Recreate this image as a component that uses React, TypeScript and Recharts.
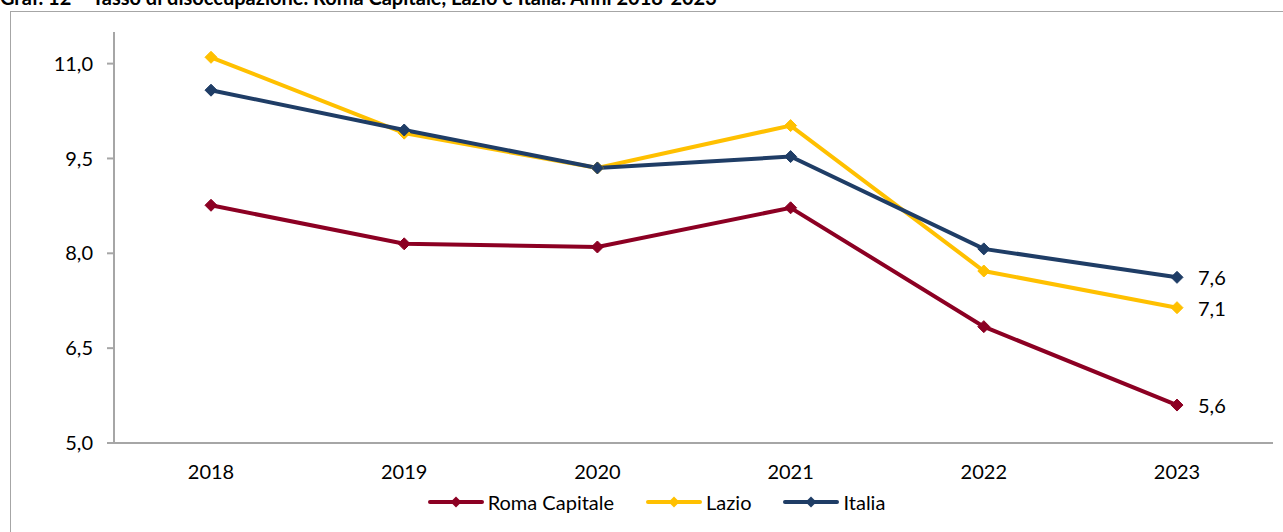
import { LineChart, Line, XAxis, YAxis, Legend, LabelList } from 'recharts';

const years = ['2018', '2019', '2020', '2021', '2022', '2023'];
const romaCapitale = [8.76, 8.15, 8.1, 8.72, 6.84, 5.6];
const lazio = [11.1, 9.9, 9.35, 10.02, 7.72, 7.14];
const italia = [10.58, 9.95, 9.35, 9.53, 8.07, 7.62];
const yTicks = [5.0, 6.5, 8.0, 9.5, 11.0];

const seriesInfo = [
    { key: 'roma', name: 'Roma Capitale', color: '#8C0023' },
    { key: 'lazio', name: 'Lazio', color: '#FFC000' },
    { key: 'italia', name: 'Italia', color: '#1F3D66' },
];

const data = years.map((year, i) => ({
    year,
    roma: romaCapitale[i],
    lazio: lazio[i],
    italia: italia[i],
}));

const FONT = 'Lato, "Open Sans", sans-serif';
const fmt = (v: number) => v.toFixed(1).replace('.', ',');

function Diamond(props: any) {
    const { cx, cy, stroke } = props;
    if (cx == null || cy == null) return null;
    const r = 6;
    return (
        <polygon
            points={`${cx},${cy - r} ${cx + r},${cy} ${cx},${cy + r} ${cx - r},${cy}`}
            fill={stroke}
            stroke={stroke}
            strokeWidth={1}
            strokeLinejoin="round"
        />
    );
}

function EndLabel(props: any) {
    const { x, y, value, index } = props;
    if (index !== years.length - 1) return null;
    return (
        <text x={x + 21} y={y} dominantBaseline="central" fontSize={20} fontFamily={FONT} fill="#000">
            {fmt(value)}
        </text>
    );
}

function LegendContent() {
    return (
        <div style={{ display: 'flex', justifyContent: 'center', alignItems: 'center', height: 28, paddingLeft: 30, fontFamily: FONT, fontSize: 20 }}>
            {seriesInfo.map((s, i) => (
                <div key={s.key} style={{ display: 'flex', alignItems: 'center', marginRight: i < seriesInfo.length - 1 ? 32 : 0 }}>
                    <svg width={56} height={14} style={{ marginRight: 4 }}>
                        <line x1={2} y1={7} x2={54} y2={7} stroke={s.color} strokeWidth={4} strokeLinecap="round" />
                        <polygon points="28,1.5 33.5,7 28,12.5 22.5,7" fill={s.color} />
                    </svg>
                    <span style={{ color: '#000' }}>{s.name}</span>
                </div>
            ))}
        </div>
    );
}

export default function App() {
    return (
        <div style={{ position: 'absolute', left: 0, top: 0, width: 1283, height: 532, overflow: 'hidden', background: '#fff' }}>
            <div
                style={{
                    position: 'absolute',
                    left: 0,
                    top: -13,
                    fontFamily: FONT,
                    fontWeight: 'bold',
                    fontSize: 20,
                    lineHeight: '20px',
                    whiteSpace: 'nowrap',
                    color: '#000',
                }}
            >
                Graf. 12 – Tasso di disoccupazione. Roma Capitale, Lazio e Italia. Anni 2018-2023
            </div>
            <div style={{ position: 'absolute', left: 10, top: 11, width: 1280, height: 600, border: '1.5px solid #A6A6A6' }} />
            <div style={{ position: 'absolute', left: 0, top: 0 }}>
                <LineChart width={1283} height={532} data={data} margin={{ top: 32, right: 10, left: 10, bottom: 4 }}>
                    <XAxis
                        dataKey="year"
                        height={45}
                        padding={{ left: 97, right: 96 }}
                        tickLine={false}
                        axisLine={{ stroke: '#A6A6A6', strokeWidth: 2 }}
                        tick={{ fill: '#000', fontSize: 20, fontFamily: FONT }}
                        tickMargin={16}
                    />
                    <YAxis
                        width={104}
                        domain={[5, 11.5]}
                        ticks={yTicks}
                        interval={0}
                        tickFormatter={fmt}
                        axisLine={{ stroke: '#A6A6A6', strokeWidth: 2 }}
                        tickLine={{ stroke: '#A6A6A6', strokeWidth: 2 }}
                        tickSize={7}
                        tickMargin={14}
                        tick={{ fill: '#000', fontSize: 20, fontFamily: FONT }}
                    />
                    <Legend verticalAlign="bottom" height={40} content={<LegendContent />} />
                    {seriesInfo.map((s) => (
                        <Line
                            key={s.key}
                            dataKey={s.key}
                            name={s.name}
                            type="linear"
                            stroke={s.color}
                            strokeWidth={4}
                            dot={<Diamond />}
                            activeDot={false}
                            isAnimationActive={false}
                        >
                            <LabelList dataKey={s.key} content={<EndLabel />} />
                        </Line>
                    ))}
                </LineChart>
            </div>
        </div>
    );
}
